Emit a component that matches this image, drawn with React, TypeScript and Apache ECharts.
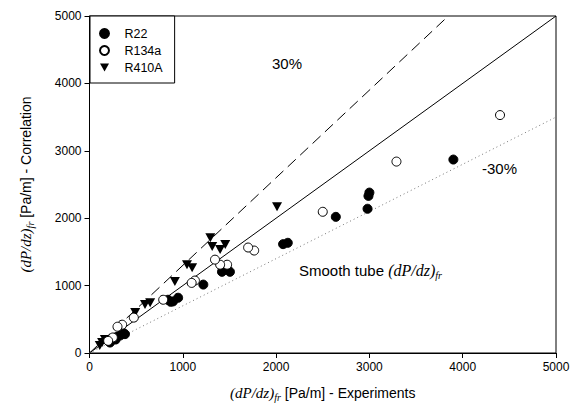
import React, { useEffect, useRef } from "react";
import * as echarts from "echarts";

const r22: number[][] = [
  [3900, 2870], [3000, 2380], [2990, 2330], [2980, 2140], [2640, 2020],
  [2125, 1635], [2075, 1615], [1505, 1205], [1420, 1205], [1220, 1015],
  [950, 820], [895, 765], [840, 790], [870, 760], [360, 300], [330, 260],
  [295, 240], [380, 280], [220, 155], [280, 200],
];
const r134a: number[][] = [
  [4400, 3530], [3290, 2840], [2500, 2095], [1765, 1520], [1700, 1565],
  [1475, 1310], [1400, 1310], [1345, 1385], [1130, 1075], [1095, 1040],
  [790, 790], [475, 525], [350, 420], [300, 390], [250, 230], [200, 180],
];
const r410a: number[][] = [
  [2010, 2170], [1295, 1710], [1315, 1580], [1400, 1535], [1455, 1610],
  [1045, 1310], [1100, 1265], [915, 1060], [650, 745], [595, 720],
  [490, 600], [165, 200], [135, 155], [110, 110],
];
const perfectLine: number[][] = [[0, 0], [5000, 5000]];
const plus30Line: number[][] = [[0, 0], [5000 / 1.3, 5000]];
const minus30Line: number[][] = [[0, 0], [5000, 3500]];
const axisTicks = { min: 0, max: 5000, interval: 1000 };

const triDown = "path://M0,0 L10,0 L5,9 Z";

export default function App() {
  const ref = useRef<HTMLDivElement>(null);
  useEffect(() => {
    if (!ref.current) return;
    const chart = echarts.init(ref.current, null, { renderer: "svg" });
    const sans = "Liberation Sans, Arial, sans-serif";
    const serif = "Liberation Serif, Times New Roman, serif";
    const rich = {
      i: { fontFamily: serif, fontStyle: "italic", fontSize: 15, color: "#000" },
      s: { fontFamily: serif, fontStyle: "italic", fontSize: 10, color: "#000", verticalAlign: "bottom", padding: [9, 0, 0, 0] },
      t: { fontFamily: sans, fontSize: 14, color: "#000" },
    };
    const axisCommon = {
      ...axisTicks,
      axisLine: { show: true, onZero: false, lineStyle: { color: "#000", width: 1 } },
      axisTick: { show: true, inside: false, length: 5, lineStyle: { color: "#000" } },
      axisLabel: { color: "#000", fontSize: 12, fontFamily: sans, margin: 8, formatter: (v: number) => String(v) },
      splitLine: { show: false },
    };
    chart.setOption({
      animation: false,
      backgroundColor: "#fff",
      grid: { left: 89.5, right: 27, top: 16, bottom: 55, show: true, borderColor: "#000", borderWidth: 1 },
      xAxis: {
        type: "value",
        ...axisCommon,
        name: "{i|(dP/dz)}{s|fr}{t| [Pa/m] - Experiments}",
        nameLocation: "middle",
        nameGap: 30,
        nameTextStyle: { rich },
      },
      yAxis: {
        type: "value",
        ...axisCommon,
        name: "{i|(dP/dz)}{s|fr}{t| [Pa/m] - Correlation}",
        nameLocation: "middle",
        nameGap: 54,
        nameRotate: 90,
        nameTextStyle: { rich },
      },
      legend: {
        orient: "vertical",
        left: 90,
        top: 16,
        padding: [11, 12, 9, 9],
        itemGap: 4,
        itemWidth: 9,
        itemHeight: 10,
        borderColor: "#000",
        borderWidth: 1,
        backgroundColor: "#fff",
        formatter: (name: string) => "\u00a0\u00a0\u00a0" + name,
        textStyle: { fontFamily: sans, fontSize: 12.5, color: "#000" },
        data: [
          { name: "R22", icon: "circle" },
          { name: "R134a", icon: "circle" },
          { name: "R410A", icon: triDown },
        ],
      },
      series: [
        {
          type: "line", data: perfectLine, symbol: "none", silent: true,
          lineStyle: { color: "#000", width: 1 }, z: 1,
        },
        {
          type: "line", data: plus30Line, symbol: "none", silent: true,
          lineStyle: { color: "#000", width: 1, type: [11, 6] }, z: 1,
        },
        {
          type: "line", data: minus30Line, symbol: "none", silent: true,
          lineStyle: { color: "#777", width: 1, type: [1, 3] }, z: 1,
        },
        {
          name: "R22", type: "scatter", data: r22, symbol: "circle", symbolSize: 9,
          itemStyle: { color: "#000", borderColor: "#000", borderWidth: 1, opacity: 1 }, z: 3,
        },
        {
          name: "R134a", type: "scatter", data: r134a, symbol: "circle", symbolSize: 9,
          itemStyle: { color: "#fff", borderColor: "#000", borderWidth: 1, opacity: 1 }, z: 4,
        },
        {
          name: "R410A", type: "scatter", data: r410a, symbol: triDown, symbolSize: [10, 9],
          itemStyle: { color: "#000", borderColor: "#000", borderWidth: 0, opacity: 1 }, z: 3,
        },
      ],
      graphic: [
        { type: "text", left: 272, top: 56, style: { text: "30%", fontFamily: sans, fontSize: 15, fill: "#000" } },
        { type: "text", left: 482, top: 161, style: { text: "-30%", fontFamily: sans, fontSize: 15, fill: "#000" } },
        {
          type: "text", left: 299, top: 262,
          style: {
            text: "{t|Smooth tube }{i|(dP/dz)}{s|fr}",
            rich: {
              t: { fontFamily: sans, fontSize: 15, fill: "#000" },
              i: { fontFamily: serif, fontStyle: "italic", fontSize: 16, fill: "#000" },
              s: { fontFamily: serif, fontStyle: "italic", fontSize: 10, fill: "#000", verticalAlign: "bottom", padding: [10, 0, 0, 0] },
            },
          },
        },
      ],
    });
    return () => chart.dispose();
  }, []);
  return <div ref={ref} style={{ width: 583, height: 408, position: "absolute", left: 0, top: 0 }} />;
}
